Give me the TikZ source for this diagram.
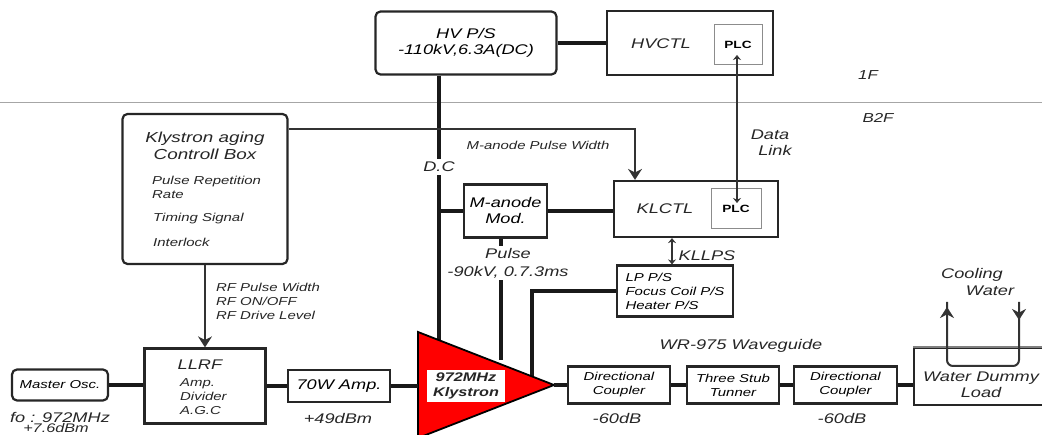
\documentclass[tikz,border=0pt]{standalone}
\usepackage{fontspec}
\setmainfont{Liberation Sans}[FakeStretch=1.3]
\usetikzlibrary{calc,arrows.meta}
\tikzset{
    block/.style={draw=black!85, line width=2.2pt, minimum width=#1, inner sep=0pt, align=center, font=\itshape\fontsize{14}{16}\selectfont, fill=white},
    rblock/.style={block=#1, rounded corners=5pt},
    smallblock/.style={block=#1, font=\itshape\fontsize{11.5}{14}\selectfont},
    plcbox/.style={draw=black!45, line width=1pt, minimum width=48pt, minimum height=40pt, inner sep=0pt, font=\bfseries\fontsize{10.5}{12}\selectfont},
    bigtxt/.style={inner sep=0pt, align=center, text=black!85, font=\itshape\fontsize{14}{16}\selectfont},
    smalltxt/.style={inner sep=0pt, align=left, text=black!85, font=\itshape\fontsize{11.5}{14}\selectfont},
    bus/.style={line width=3.6pt, draw=black!90},
    sig/.style={line width=1.5pt, draw=black!80},
    bighead/.style={>={Stealth[length=11pt,width=14pt]}},
    smallhead/.style={>={Stealth[length=5pt,width=8pt]}}
}
\begin{document}
\begin{tikzpicture}[x=1pt,y=-1pt]
    \useasboundingbox (0,0) rectangle (1042,435);
    % floors
    \coordinate (floorl) at (0,103);
    \coordinate (floorr) at (1042,103);
    \draw[black!35, line width=1pt] (floorl) -- (floorr);
    \node[bigtxt, font=\itshape\fontsize{13}{15}\selectfont] (onef) at (868,75) {1F};
    \node[bigtxt, font=\itshape\fontsize{13}{15}\selectfont] (btwof) at (878,118) {B2F};
    % top row
    \node[rblock=181pt, minimum height=63pt] (hvps) at (466,43) {HV P/S\\-110kV,6.3A(DC)};
    \node[block=166pt, minimum height=64pt] (hvctl) at (690,43) {};
    \node[bigtxt] (hvctltxt) at (661,44) {HVCTL};
    \node[plcbox] (plctop) at (738,45) {PLC};
    % middle row
    \node[rblock=165pt, minimum height=150pt] (ctlbox) at (205,189) {};
    \node[bigtxt, font=\itshape\fontsize{14.5}{17}\selectfont] (ctltitle) at (205,146) {Klystron aging\\Controll Box};
    \node[smalltxt, anchor=west] (prr) at (152,187) {Pulse Repetition\\Rate};
    \node[smalltxt, anchor=west] (timing) at (153,219) {Timing Signal};
    \node[smalltxt, anchor=west] (intlk) at (153,242) {Interlock};
    \node[block=83pt, minimum height=53pt] (manode) at (505.5,211) {M-anode\\Mod.};
    \node[block=164pt, minimum height=56pt] (klctl) at (696,209) {};
    \node[bigtxt] (klctltxt) at (665,209) {KLCTL};
    \node[plcbox, minimum width=50pt] (plcbot) at (736,209) {PLC};
    \node[smallblock=116pt, minimum height=51pt, align=left] (klps) at (675,291) {LP P/S\\Focus Coil P/S\\Heater P/S};
    \node[smalltxt] (mwidth) at (538,145) {M-anode Pulse Width};
    \node[bigtxt] (datalink) at (770,143) {Data\\\hspace*{10pt}Link};
    \node[bigtxt] (klpstxt) at (707,256) {KLLPS};
    \node[bigtxt, font=\itshape\fontsize{14}{18}\selectfont, inner ysep=2pt] (pulse) at (508,263) {Pulse\\-90kV, 0.7.3ms};
    \node[smalltxt] (rfinfo) at (268,301) {RF Pulse Width\\RF ON/OFF\\RF Drive Level};
    % bottom row
    \node[rblock=96pt, minimum height=31pt, font=\itshape\fontsize{11.5}{14}\selectfont] (mosc) at (60,385) {Master Osc.};
    \node[block=121pt, minimum height=75pt] (llrf) at (205,386) {};
    \node[bigtxt] (llrftxt) at (200,365) {LLRF};
    \node[smalltxt, anchor=west] (llrfsub) at (180,397) {Amp.\\Divider\\A.G.C};
    \node[block=102pt, minimum height=32pt] (amp) at (339,386) {70W Amp.};
    \node[smallblock=102pt, minimum height=37pt] (dca) at (619,385) {Directional\\Coupler};
    \node[smallblock=92pt, minimum height=37pt] (tuner) at (733,385) {Three Stub\\Tunner};
    \node[smallblock=103pt, minimum height=37pt] (dcb) at (845.5,385) {Directional\\Coupler};
    \node[block=134pt, minimum height=57pt] (load) at (981,376.5) {};
    \draw[black!50, line width=2.2pt] (load.north west) -- (load.north east);
    \node[bigtxt] (loadtxt) at (981,385) {Water Dummy\\Load};
    \node[bigtxt] (guide) at (741,346) {WR-975 Waveguide};
    \node[bigtxt] (fo) at (60,417) {fo : 972MHz};
    \node[bigtxt, font=\itshape\fontsize{12.5}{14}\selectfont] (dbm) at (56,428.5) {+7.6dBm};
    \node[bigtxt] (ampdb) at (338,418) {+49dBm};
    \node[bigtxt] (coupa) at (617,418) {-60dB};
    \node[bigtxt] (coupb) at (842,418) {-60dB};
    \node[bigtxt] (cool) at (972,275) {Cooling};
    \node[bigtxt] (water) at (990,291) {Water};
    % klystron feeds, the triangle is drawn over their ends
    \coordinate (dcjoin) at (439,211);
    \coordinate (dcend) at (439,350);
    \coordinate (pulseend) at (501,360);
    \coordinate (heatend) at (532,380);
    \node[bigtxt, fill=white, inner ysep=3pt] (dc) at (439,167) {D.C};
    \draw[bus] (hvps.south -| dcjoin) -- (dc);
    \draw[bus] (dc) -- (dcend);
    \draw[bus] (dcjoin) -- (manode.west);
    \draw[bus] (manode.east) -- (klctl.west |- manode.east);
    \draw[bus] (hvps.east |- hvctl.west) -- (hvctl.west);
    \draw[bus] (manode.south -| pulseend) -- (pulse.north -| pulseend);
    \draw[bus] (pulse.south -| pulseend) -- (pulseend);
    \draw[bus] (heatend) |- (klps.west);
    \filldraw[draw=black, fill=red, line width=1.8pt] (418,332) coordinate (kla) -- (554,385) coordinate (kltip) -- (418,438) coordinate (klb) -- cycle;
    \node[bigtxt, fill=white, minimum width=78pt, minimum height=32pt, font=\itshape\bfseries\fontsize{12.5}{15}\selectfont] (kly) at (466,386) {972MHz\\Klystron};
    % rf chain
    \draw[bus] (mosc.east) -- (llrf.west |- mosc.east);
    \draw[bus] (llrf.east) -- (amp.west);
    \draw[bus] (amp.east) -- (kla |- amp.east);
    \draw[bus] (kltip) -- (dca.west);
    \draw[bus] (dca.east) -- (tuner.west);
    \draw[bus] (tuner.east) -- (dcb.west);
    \draw[bus] (dcb.east) -- (load.west |- dcb.east);
    % control lines
    \coordinate (widthdrop) at (635,129);
    \coordinate (linktop) at (737,55);
    \coordinate (linkbot) at (737,203);
    \coordinate (lpsx) at (672,100);
    \draw[sig, bighead, ->] (ctlbox.east |- widthdrop) -- (widthdrop) -- (widthdrop |- klctl.north);
    \draw[sig, bighead, ->] (ctlbox.south) -- (llrf.north);
    \draw[sig, smallhead, <->] (linktop) -- (linkbot);
    \draw[sig, smallhead, <->] (klctl.south -| lpsx) -- (klps.north -| lpsx);
    % cooling water
    \coordinate (wleft) at (947,302);
    \coordinate (wright) at (1019,302);
    \coordinate (wbot) at (983,366);
    \coordinate (headl) at (947,320);
    \coordinate (headlend) at (947,307);
    \coordinate (headr) at (1019,306);
    \draw[sig, line width=2pt, rounded corners=6pt] (wleft) -- (wleft |- wbot) -- (wright |- wbot) -- (wright);
    \draw[sig, line width=2pt, bighead, ->] (headl) -- (headlend);
    \draw[sig, line width=2pt, bighead, ->] (headr) -- (wright |- headl);
\end{tikzpicture}
\end{document}
